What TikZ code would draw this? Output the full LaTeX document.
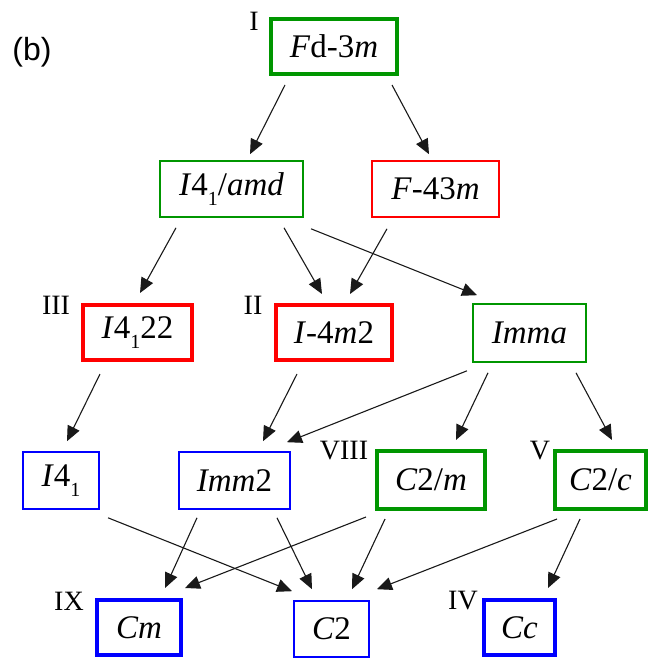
\documentclass[tikz,border=0pt]{standalone}
\usepackage{fontspec}
\setmainfont{Liberation Serif}
\newfontfamily\labsans{Liberation Sans}
\usetikzlibrary{arrows.meta,calc}
\definecolor{gr}{RGB}{0,150,0}
\definecolor{rd}{RGB}{255,0,0}
\definecolor{bl}{RGB}{0,0,255}
\newcommand\lowsub[1]{\raisebox{-0.3em}{\fontsize{20}{20}\selectfont #1}}
\begin{document}
\begin{tikzpicture}[x=1pt,y=-1pt,
  box/.style={draw,inner sep=0pt,minimum width=#1,font=\fontsize{33}{33}\selectfont},
  thin/.style={line width=1.6pt},
  thick4/.style={line width=4pt},
  hh/.style={minimum height=#1},
  arr/.style={line width=1.1pt,draw=black!90,-{Triangle[length=15pt,width=13pt]}},
  num/.style={font=\fontsize{28}{28}\selectfont,inner sep=0pt}]
\useasboundingbox (0,0) rectangle (650,660);
\node[font=\labsans\fontsize{32}{32}\selectfont,inner sep=0pt] (b) at (32,52) {(b)};
% row 1
\node[box=126pt,hh=55pt,thick4,draw=gr] (fd) at (334,46.5) {\textit{F}d-3\textit{m}};
% row 2
\node[box=143pt,hh=56pt,thin,draw=gr] (amd) at (231.5,189) {\textit{I}4\lowsub{1}/\textit{amd}};
\node[box=127pt,hh=56pt,thin,draw=rd] (f43) at (435.5,189) {\textit{F}-43\textit{m}};
% row 3
\node[box=109pt,hh=55pt,thick4,draw=rd] (i4122) at (137.5,332.5) {\textit{I}4\lowsub{1}22};
\node[box=116pt,hh=55pt,thick4,draw=rd] (i4m2) at (334,332.5) {\textit{I}-4\textit{m}2};
\node[box=113pt,hh=58pt,thin,draw=gr] (imma) at (529.5,333) {\textit{Imma}};
% row 4
\node[box=76pt,hh=57pt,thin,draw=bl] (i41) at (61,480.5) {\textit{I}4\lowsub{1}};
\node[box=111pt,hh=57pt,thin,draw=bl] (imm2) at (234.5,480.5) {\textit{Imm}2};
\node[box=108pt,hh=58pt,thick4,draw=gr] (c2m) at (431,480) {\textit{C}2/\textit{m}};
\node[box=91pt,hh=58pt,thick4,draw=gr] (c2c) at (600.5,480) {\textit{C}2/\textit{c}};
% row 5
\node[box=84pt,hh=55pt,thick4,draw=bl] (cm) at (139,627.5) {\textit{Cm}};
\node[box=75pt,hh=56pt,thin,draw=bl] (c2) at (331.5,629) {\textit{C}2};
\node[box=71pt,hh=55pt,thick4,draw=bl] (cc) at (519.5,627.5) {\textit{Cc}};
% numerals
\node[num] (nI) at (254,21) {I};
\node[num] (nIII) at (56,305) {III};
\node[num] (nII) at (253,305) {II};
\node[num] (nVIII) at (344,451) {VIII};
\node[num] (nV) at (540,451) {V};
\node[num] (nIX) at (69,601) {IX};
\node[num] (nIV) at (463,601) {IV};
% arrows
\draw[arr] ($(fd.south)+(-49,9)$) -- ($(amd.north)+(18.5,-6)$);
\draw[arr] ($(fd.south)+(58,9)$) -- ($(f43.north)+(-6.5,-6)$);
\draw[arr] ($(amd.south)+(-55.5,10)$) -- ($(i4122.north)+(2.5,-10)$);
\draw[arr] ($(amd.south)+(52.5,10)$) -- ($(i4m2.north)+(-12,-9)$);
\draw[arr] ($(f43.south)+(-48.5,11)$) -- ($(i4m2.north)+(16,-9)$);
\draw[arr] ($(amd.south)+(79.5,11)$) -- ($(imma.north)+(-52.5,-8)$);
\draw[arr] ($(i4122.south)+(-37.5,12)$) -- ($(i41.north)+(6,-10)$);
\draw[arr] ($(i4m2.south)+(-37,12)$) -- ($(imm2.north)+(28.5,-10)$);
\draw[arr] ($(imma.south)+(-62.5,8)$) -- ($(imm2.north)+(52.5,-9)$);
\draw[arr] ($(imma.south)+(-41.5,10)$) -- ($(c2m.north)+(25,-9)$);
\draw[arr] ($(imma.south)+(46.5,10)$) -- ($(c2c.north)+(11.5,-9)$);
\draw[arr] ($(i41.south)+(47,8)$) -- ($(c2.north)+(-39.5,-9)$);
\draw[arr] ($(imm2.south)+(-37.5,8)$) -- ($(cm.north)+(26,-10)$);
\draw[arr] ($(imm2.south)+(42.5,8)$) -- ($(c2.north)+(-19.5,-11)$);
\draw[arr] ($(c2m.south)+(-65,6)$) -- ($(cm.north)+(46,-10)$);
\draw[arr] ($(c2m.south)+(-46,8)$) -- ($(c2.north)+(20.5,-11)$);
\draw[arr] ($(c2c.south)+(-43.5,8)$) -- ($(c2.north)+(45.5,-11)$);
\draw[arr] ($(c2c.south)+(-20.5,8)$) -- ($(cc.north)+(28.5,-10)$);
\end{tikzpicture}
\end{document}
